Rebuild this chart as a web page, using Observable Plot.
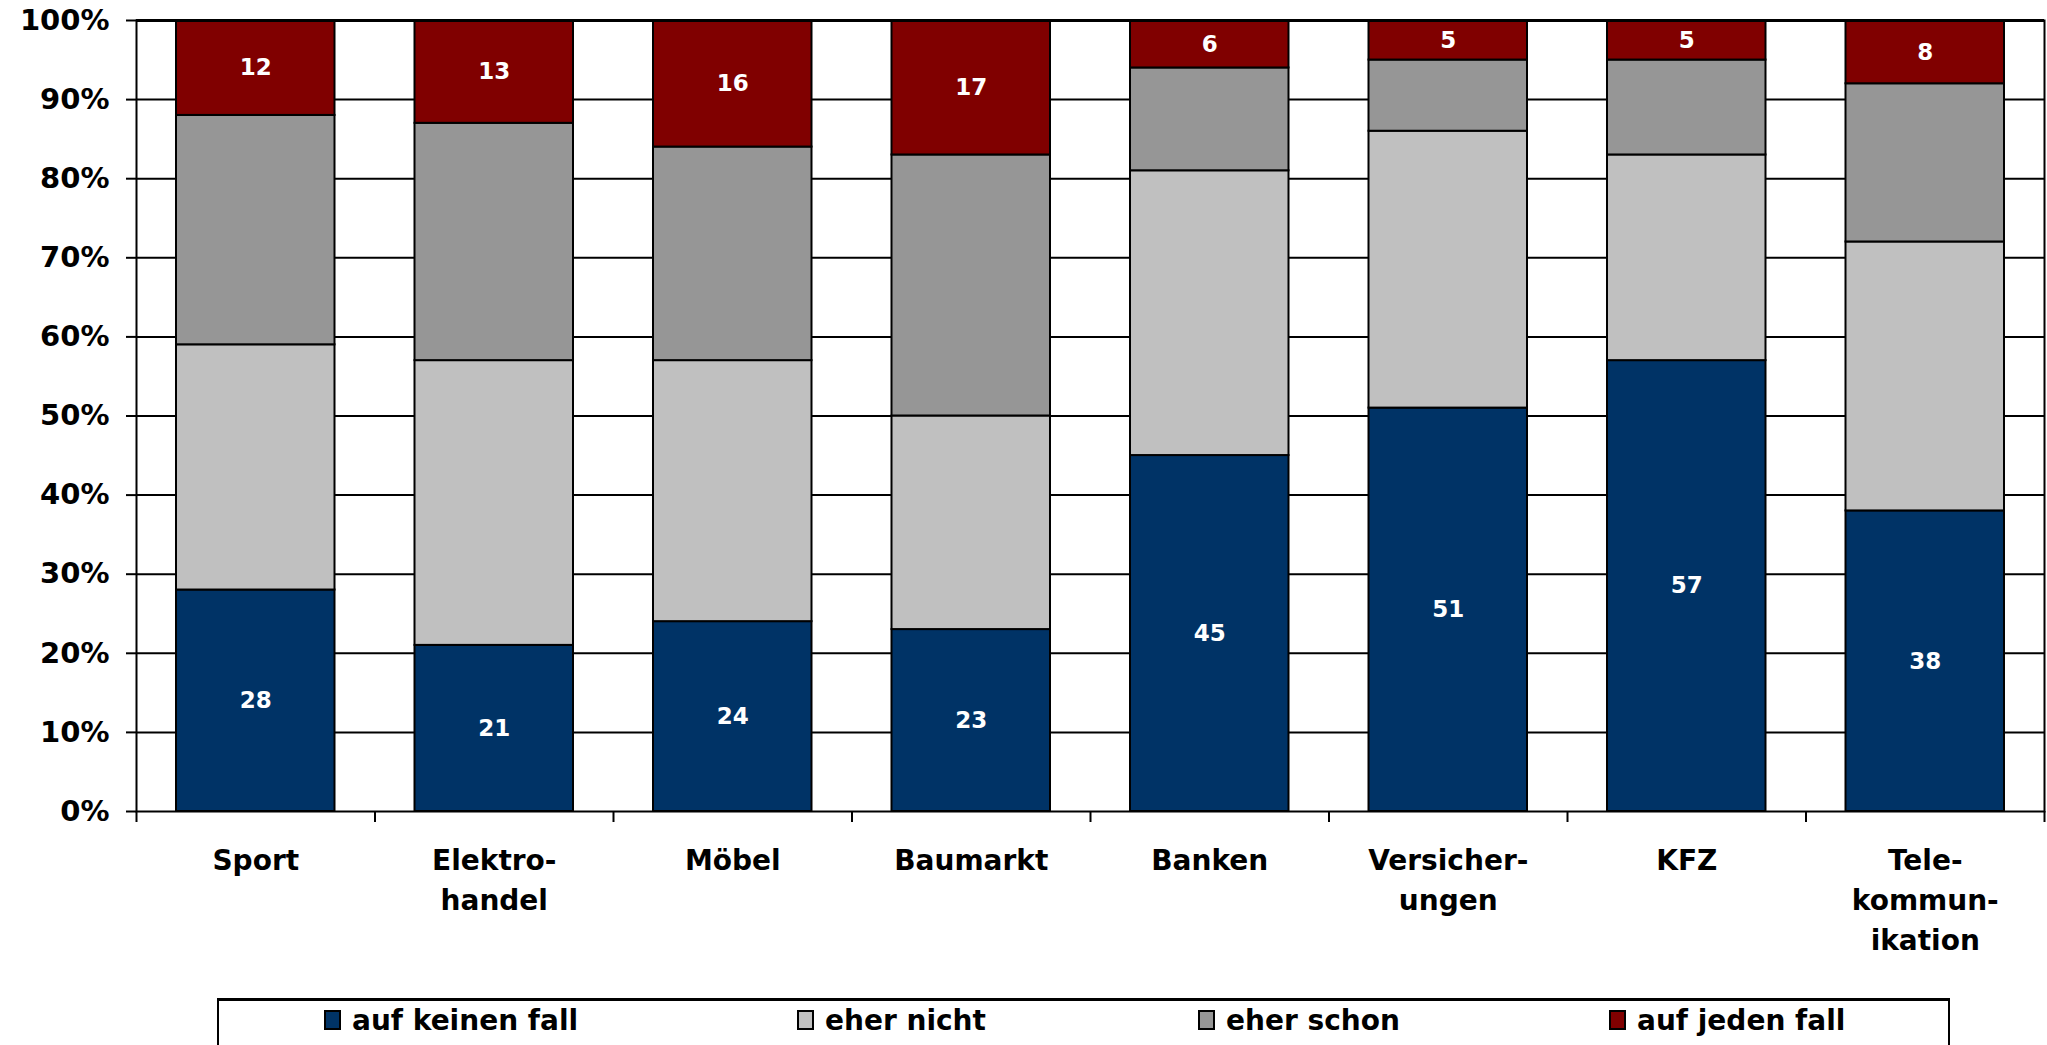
<!DOCTYPE html>
<html>
<head>
<meta charset="utf-8">
<script src="https://cdn.jsdelivr.net/npm/d3@7"></script>
<script src="https://cdn.jsdelivr.net/npm/@observablehq/plot@0.6"></script>
<style>
  html, body { margin: 0; padding: 0; background: #fff; overflow: hidden; }
  #wrap { position: relative; width: 2047px; height: 1045px; font-family: "DejaVu Sans", sans-serif; }
  #legend { position: absolute; left: 217px; top: 998px; width: 1733px; height: 70px;
            border: 2px solid #000; border-top-width: 3px; box-sizing: border-box; background: #fff; }
  .item { position: absolute; top: 4px; height: 30px; display: flex; align-items: center;
          font-size: 28px; font-weight: bold; color: #000; white-space: nowrap; }
  .sw { width: 13px; height: 16px; border: 2px solid #000; margin-right: 11px; }
</style>
</head>
<body>
<div id="wrap">
  <div id="chart"></div>
  <div id="legend"></div>
</div>
<script>
const categories = ["Sport", "Elektro-\nhandel", "Möbel", "Baumarkt", "Banken", "Versicher-\nungen", "KFZ", "Tele-\nkommun-\nikation"];
const seriesNames = ["auf keinen fall", "eher nicht", "eher schon", "auf jeden fall"];
const seriesColors = ["#003366", "#C0C0C0", "#969696", "#800000"];
const aufKeinenFall = [28, 21, 24, 23, 45, 51, 57, 38];
const eherNicht     = [31, 36, 33, 27, 36, 35, 26, 34];
const eherSchon     = [29, 30, 27, 33, 13,  9, 12, 20];
const aufJedenFall  = [12, 13, 16, 17,  6,  5,  5,  8];
const yTicks = [0, 10, 20, 30, 40, 50, 60, 70, 80, 90, 100];
const labeledSeries = ["auf keinen fall", "auf jeden fall"];

const seriesValues = [aufKeinenFall, eherNicht, eherSchon, aufJedenFall];

// build stacked table
const rows = [];
categories.forEach((c, i) => {
  let acc = 0;
  seriesNames.forEach((s, k) => {
    const v = seriesValues[k][i];
    rows.push({cat: c, idx: i, series: s, value: v, y1: acc, y2: acc + v});
    acc += v;
  });
});

const chart = Plot.plot({
  width: 2047,
  height: 990,
  marginLeft: 136,
  marginRight: 3,
  marginTop: 20,
  marginBottom: 179,
  style: {fontFamily: "DejaVu Sans, sans-serif", fontWeight: "bold", color: "#000", background: "#fff"},
  x: {domain: [0, categories.length], axis: null, label: null},
  y: {domain: [0, 100], axis: null, label: null},
  color: {domain: seriesNames, range: seriesColors},
  marks: [
    Plot.gridY(yTicks.slice(1), {stroke: "#000", strokeOpacity: 1, strokeWidth: 2}),
    Plot.rectY(rows, {
      x1: "idx", x2: d => d.idx + 1, y1: "y1", y2: "y2",
      fill: "series", stroke: "#000", strokeWidth: 2, insetLeft: 40, insetRight: 40
    }),
    Plot.text(rows.filter(d => labeledSeries.includes(d.series)), {
      x: d => d.idx + 0.5, y: d => (d.y1 + d.y2) / 2, text: d => String(d.value),
      fill: "#fff", fontSize: 23, fontWeight: "bold"
    }),
    Plot.axisY({ticks: yTicks, tickFormat: d => d + "%", tickSize: 10, tickPadding: 17, label: null,
      fontSize: 29, fontWeight: "bold", stroke: "#000", strokeWidth: 2}),
    Plot.axisX({ticks: d3.range(0, categories.length + 1), tickFormat: () => "", tickSize: 11, label: null,
      stroke: "#000", strokeWidth: 2}),
    Plot.text(categories, {
      x: (d, i) => i + 0.5, y: () => 0, text: d => d, dy: 30, lineAnchor: "top",
      lineHeight: 1.43, fontSize: 28, fontWeight: "bold", fill: "#000"
    }),
    Plot.ruleY([100], {stroke: "#000", strokeWidth: 3}),
    Plot.frame({stroke: "#000", strokeWidth: 2})
  ]
});
document.getElementById("chart").appendChild(chart);

// legend
const legend = document.getElementById("legend");
const itemLefts = [105, 578, 979, 1390];
seriesNames.forEach((s, k) => {
  const it = document.createElement("div");
  it.className = "item";
  it.style.left = itemLefts[k] + "px";
  const sw = document.createElement("span");
  sw.className = "sw";
  sw.style.background = seriesColors[k];
  it.appendChild(sw);
  it.appendChild(document.createTextNode(s));
  legend.appendChild(it);
});
</script>
</body>
</html>
